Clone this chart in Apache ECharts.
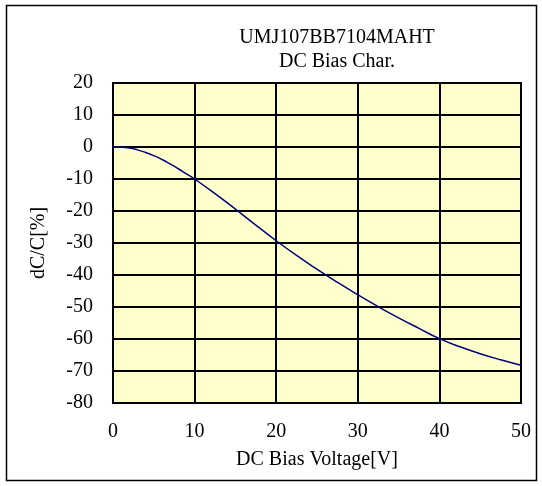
<!DOCTYPE html>
<html>
<head>
<meta charset="utf-8">
<script src="https://cdn.jsdelivr.net/npm/echarts@6/dist/echarts.min.js"></script>
<style>
html,body{margin:0;padding:0;background:#fff;}
#chart{width:542px;height:486px;}
</style>
</head>
<body>
<div id="chart"></div>
<script>
const titleLines = ["UMJ107BB7104MAHT", "DC Bias Char."];
const xName = "DC Bias Voltage[V]";
const yName = "dC/C[%]";
const voltage = [0, 1, 2, 3, 4, 5, 6, 7, 8, 9, 10, 12.5, 15, 17.5, 20, 22.5, 25, 27.5, 30, 32.5, 35, 37.5, 40, 42.5, 45, 47.5, 50];
const dcPercent = [0, -0.05, -0.3, -0.9, -1.7, -2.7, -3.9, -5.3, -6.8, -8.4, -10, -14.6, -19.4, -24.4, -29.3, -33.9, -38.2, -42.3, -46.2, -49.9, -53.4, -56.7, -59.9, -62.4, -64.6, -66.5, -68.2];

const font = 'Liberation Serif';
const fs = 20;
const chart = echarts.init(document.getElementById('chart'), null, {renderer: 'canvas'});
chart.setOption({
  backgroundColor: '#ffffff',
  animation: false,
  graphic: [
    {type: 'rect', shape: {x: 6.5, y: 5.5, width: 530, height: 475}, style: {fill: 'none', stroke: '#000', lineWidth: 1.5}, z: 100},
    {type: 'text', style: {text: titleLines[0], font: fs + 'px "Liberation Serif"', fill: '#000', textAlign: 'center', textVerticalAlign: 'middle', x: 337, y: 38}},
    {type: 'text', style: {text: titleLines[1], font: fs + 'px "Liberation Serif"', fill: '#000', textAlign: 'center', textVerticalAlign: 'middle', x: 337, y: 62}}
  ],
  grid: {left: 113, top: 83, right: 21, bottom: 83, show: true, backgroundColor: '#FFFFCC', borderColor: '#000', borderWidth: 2},
  xAxis: {
    type: 'value', min: 0, max: 50, interval: 10,
    name: xName, nameLocation: 'middle', nameGap: 47,
    nameTextStyle: {fontFamily: font, fontSize: fs, color: '#000'},
    axisLine: {show: true, lineStyle: {color: '#000', width: 2}},
    axisTick: {show: false},
    axisLabel: {fontFamily: font, fontSize: fs, color: '#000', margin: 19},
    splitLine: {show: true, lineStyle: {color: '#000', width: 2}}
  },
  yAxis: {
    type: 'value', min: -80, max: 20, interval: 10,
    name: yName, nameLocation: 'middle', nameGap: 64,
    nameTextStyle: {fontFamily: font, fontSize: fs, color: '#000'},
    axisLine: {show: true, lineStyle: {color: '#000', width: 2}},
    axisTick: {show: false},
    axisLabel: {fontFamily: font, fontSize: fs, color: '#000', margin: 20},
    splitLine: {show: true, lineStyle: {color: '#000', width: 2}}
  },
  series: [{
    type: 'line', smooth: true, showSymbol: false,
    data: voltage.map((v, i) => [v, dcPercent[i]]),
    lineStyle: {color: '#000080', width: 1.5},
    itemStyle: {color: '#000080'}
  }]
});
</script>
</body>
</html>
